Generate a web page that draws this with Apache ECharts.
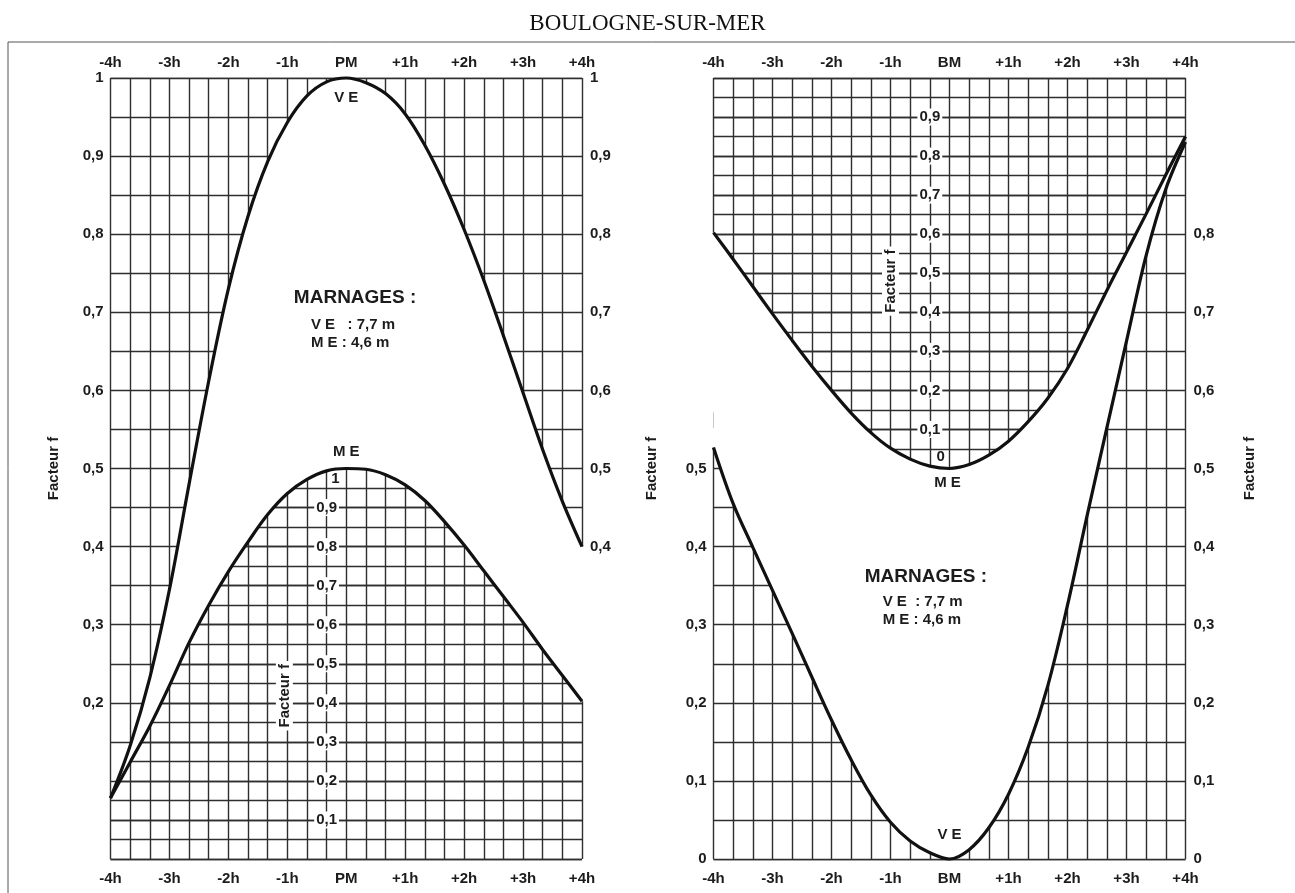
<!DOCTYPE html>
<html><head><meta charset="utf-8">
<script src="https://cdn.jsdelivr.net/npm/echarts/dist/echarts.min.js"></script>
<style>html,body{margin:0;padding:0;background:#fff;}#main{width:1295px;height:893px;}</style>
</head><body><div id="main"></div>
<script>
// ---------- data ----------
const minutes = [-240,-220,-200,-180,-160,-140,-120,-100,-80,-60,-40,-20,0,20,40,60,80,100,120,140,160,180,200,220,240];
const hourValues = [-240,-180,-120,-60,0,60,120,180,240];
const hourLabelsPM = ['-4h','-3h','-2h','-1h','PM','+1h','+2h','+3h','+4h'];
const hourLabelsBM = ['-4h','-3h','-2h','-1h','BM','+1h','+2h','+3h','+4h'];
// Left panel (around Pleine Mer), factor f on outer scale
const pmVE = [0.078,0.145,0.232,0.345,0.480,0.612,0.730,0.823,0.893,0.943,0.977,0.995,1.000,0.994,0.980,0.954,0.914,0.864,0.806,0.741,0.670,0.597,0.524,0.458,0.400];
const pmME = [0.078,0.124,0.170,0.222,0.277,0.325,0.368,0.406,0.441,0.468,0.486,0.497,0.500,0.499,0.492,0.479,0.459,0.432,0.402,0.369,0.336,0.303,0.268,0.235,0.202];
// Right panel (around Basse Mer)
const bmME = [0.802,0.768,0.733,0.698,0.664,0.631,0.600,0.571,0.546,0.526,0.512,0.503,0.500,0.505,0.517,0.535,0.560,0.590,0.628,0.677,0.728,0.777,0.826,0.876,0.925];
const bmVE = [0.527,0.455,0.399,0.344,0.289,0.233,0.178,0.127,0.082,0.047,0.023,0.008,0.000,0.012,0.040,0.083,0.143,0.222,0.325,0.440,0.552,0.663,0.773,0.858,0.918];
// tick labels
const pmLeftTicks = [0.2,0.3,0.4,0.5,0.6,0.7,0.8,0.9,1];
const pmRightTicks = [0.4,0.5,0.6,0.7,0.8,0.9,1];
const bmLeftTicks = [0,0.1,0.2,0.3,0.4,0.5];
const bmRightTicks = [0,0.1,0.2,0.3,0.4,0.5,0.6,0.7,0.8];
const innerTicks = [0.1,0.2,0.3,0.4,0.5,0.6,0.7,0.8,0.9];
const axisName = 'Facteur f';
const title = 'BOULOGNE-SUR-MER';

// ---------- style ----------
const FONT = '"Liberation Sans", Arial, sans-serif';
const INK = '#1c1c1c';
const GRIDC = '#2e2e2e';
const lineSt = {color: GRIDC, width: 1.4};
const LBL = {color: INK, fontWeight: 'bold', fontSize: 15, fontFamily: FONT};
const grids = [
  {left: 110.5, top: 78, width: 471.5, height: 781},
  {left: 713.5, top: 78, width: 472, height: 781}
];

function fmtVal(r){ if (Math.abs(r-1)<1e-9) return '1'; if (Math.abs(r)<1e-9) return '0'; return r.toFixed(1).replace('.', ','); }
function isTick(list, v){ const r = Math.round(v*100)/100; return list.some(t => Math.abs(t-r) < 1e-6); }
function yFmt(list){ return v => isTick(list, v) ? fmtVal(Math.round(v*100)/100) : ''; }
function yFmtBoxed(list){ return v => isTick(list, v) ? '{b|' + fmtVal(Math.round(v*100)/100) + '}' : ''; }
function xFmt(labels){ return v => { const i = hourValues.indexOf(Math.round(v)); return i >= 0 ? labels[i] : ''; }; }

function xAxesFor(gi, labels){
  return [
    {type:'value', gridIndex:gi, position:'bottom', min:-240, max:240, interval:60, z:3,
     axisLine:{show:false, onZero:false}, axisTick:{show:false},
     axisLabel:{...LBL, margin:12, formatter:xFmt(labels)},
     splitLine:{show:true, lineStyle:lineSt},
     minorTick:{show:false, splitNumber:3},
     minorSplitLine:{show:true, lineStyle:lineSt}},
    {type:'value', gridIndex:gi, position:'top', min:-240, max:240, interval:60,
     axisLine:{show:false, onZero:false}, axisTick:{show:false},
     axisLabel:{...LBL, margin:8, formatter:xFmt(labels)},
     splitLine:{show:false}}
  ];
}
function yAxesFor(gi, leftTicks, rightTicks, innerMin, innerMax, leftName, leftGap, rightName, rightGap){
  const w = grids[gi].width;
  return [
    {type:'value', gridIndex:gi, position:'left', min:0, max:1, interval:0.1, z:3,
     axisLine:{show:false, onZero:false}, axisTick:{show:false},
     axisLabel:{...LBL, margin:7, formatter:yFmt(leftTicks)},
     splitLine:{show:true, lineStyle:lineSt},
     minorTick:{show:false, splitNumber:2},
     minorSplitLine:{show:true, lineStyle:lineSt},
     name:leftName, nameLocation:'middle', nameRotate:90, nameGap:leftGap, nameTextStyle:{...LBL}},
    {type:'value', gridIndex:gi, position:'right', min:0, max:1, interval:0.1,
     axisLine:{show:false, onZero:false}, axisTick:{show:false},
     axisLabel:{...LBL, margin:8, formatter:yFmt(rightTicks)},
     splitLine:{show:false},
     name:rightName, nameLocation:'middle', nameRotate:90, nameGap:rightGap, nameTextStyle:{...LBL}},
    {type:'value', gridIndex:gi, position:'left', min:0, max:1, interval:0.025, z:0,
     axisLine:{show:false, onZero:false}, axisTick:{show:false}, axisLabel:{show:false},
     splitLine:{show:true, lineStyle:lineSt}},
    {type:'value', gridIndex:gi, position:'left', offset:-(220/480)*w, min:innerMin, max:innerMax, interval:0.1, z:6,
     axisLine:{show:false, onZero:false}, axisTick:{show:false}, splitLine:{show:false},
     axisLabel:{...LBL, margin:0, align:'center', formatter:yFmtBoxed(innerTicks),
       rich:{b:{...LBL, backgroundColor:'#fff', padding:[1,2]}}}}
  ];
}
// points are stored as [value, minute] with encode {x:1, y:0} so that stacking applies to the value dimension
function panelSeries(gi, upper, lower, maskCurve, maskOrigin){
  const xi = gi*2, yi = gi*4;
  const pts = arr => minutes.map((m,i) => [arr[i], m]);
  const diff = minutes.map((m,i) => [Math.round((upper[i]-lower[i])*10000)/10000, m]);
  const n = minutes.length - 1;
  const c = {type:'line', xAxisIndex:xi, yAxisIndex:yi, encode:{x:1, y:0}, smooth:0.35, symbol:'none', silent:true, animation:false};
  const edges = [];
  if (Math.abs(upper[0]-lower[0]) > 0.02) edges.push([{coord:[minutes[0], lower[0]]},{coord:[minutes[0], upper[0]]}]);
  if (Math.abs(upper[n]-lower[n]) > 0.02) edges.push([{coord:[minutes[n], lower[n]]},{coord:[minutes[n], upper[n]]}]);
  return [
    {...c, data:pts(maskCurve), lineStyle:{width:0, opacity:0}, areaStyle:{color:'#fff', opacity:1, origin:maskOrigin}, z:1},
    {...c, stack:'band'+gi, data:pts(lower), lineStyle:{width:0, opacity:0}, z:4},
    {...c, stack:'band'+gi, data:diff, lineStyle:{width:0, opacity:0}, areaStyle:{color:'#fff', opacity:1}, z:4, clip:false,
     markLine:{silent:true, symbol:'none', animation:false, label:{show:false}, lineStyle:{color:'#fff', width:3, type:'solid'}, data:edges}},
    {...c, data:pts(upper), lineStyle:{color:'#111', width:3.2}, z:5, clip:false},
    {...c, data:pts(lower), lineStyle:{color:'#111', width:3.2}, z:5, clip:false}
  ];
}

const chart = echarts.init(document.getElementById('main'));
const option = {
  backgroundColor:'#fff',
  animation:false,
  textStyle:{fontFamily:FONT},
  title:{text:title, left:'center', top:7, textStyle:{fontFamily:'"Liberation Serif", "Times New Roman", serif', fontWeight:'normal', fontSize:23, color:'#111'}},
  grid:grids,
  xAxis:[...xAxesFor(0, hourLabelsPM), ...xAxesFor(1, hourLabelsBM)],
  yAxis:[...yAxesFor(0, pmLeftTicks, pmRightTicks, 0, 2, axisName, 49, '', 0),
         ...yAxesFor(1, bmLeftTicks, bmRightTicks, -1, 1, axisName, 54, axisName, 57)],
  series:[...panelSeries(0, pmVE, pmME, pmVE, 'end'), ...panelSeries(1, bmME, bmVE, bmME, 'start')]
};
chart.setOption(option);

// ---------- annotations (placed in data space through the chart's scales) ----------
const P = (panel, m, v) => chart.convertToPixel({xAxisIndex: panel*2, yAxisIndex: panel*4}, [m, v]);
const T = (p, text, size, align) => ({type:'text', x:p[0], y:p[1], z:20,
  style:{text:text, fill:INK, font:'bold '+size+'px '+FONT, align:align||'center', verticalAlign:'middle'}});
const notes = [
  [0, 0, 0.974, 'V E', 15, 'center'],
  [0, 9, 0.718, 'MARNAGES :', 19, 'center'],
  [0, -36, 0.684, 'V E   : 7,7 m', 15, 'left'],
  [0, -36, 0.661, 'M E : 4,6 m', 15, 'left'],
  [0, 0, 0.521, 'M E', 15, 'center'],
  [0, -11, 0.487, '1', 15, 'center'],
  [1, -2, 0.481, 'M E', 15, 'center'],
  [1, 0, 0.031, 'V E', 15, 'center'],
  [1, -9, 0.515, '0', 15, 'center'],
  [1, -24, 0.361, 'MARNAGES :', 19, 'center'],
  [1, -68, 0.329, 'V E  : 7,7 m', 15, 'left'],
  [1, -68, 0.306, 'M E : 4,6 m', 15, 'left']
];
const gfx = notes.map(n => T(P(n[0], n[1], n[2]), n[3], n[4], n[5]));
[[0, -63, 0.209], [1, -60, 0.74]].forEach(a => {
  const p = P(a[0], a[1], a[2]);
  gfx.push({type:'text', x:p[0], y:p[1], rotation:Math.PI/2, z:20,
    style:{text:axisName, fill:INK, font:'bold 15px '+FONT, align:'center', verticalAlign:'middle', backgroundColor:'#fff', padding:[1,3]}});
});
const s1 = P(1, -240, 0.572), s2 = P(1, -240, 0.552);
gfx.push({type:'line', z:20, shape:{x1:s1[0], y1:s1[1], x2:s2[0], y2:s2[1]}, style:{stroke:'#c8c8c8', lineWidth:1}});
gfx.push({type:'line', z:20, shape:{x1:8, y1:42, x2:1295, y2:42}, style:{stroke:'#555', lineWidth:1}});
gfx.push({type:'line', z:20, shape:{x1:8, y1:42, x2:8, y2:893}, style:{stroke:'#555', lineWidth:1}});
chart.setOption({graphic:{elements:gfx}});
</script></body></html>
